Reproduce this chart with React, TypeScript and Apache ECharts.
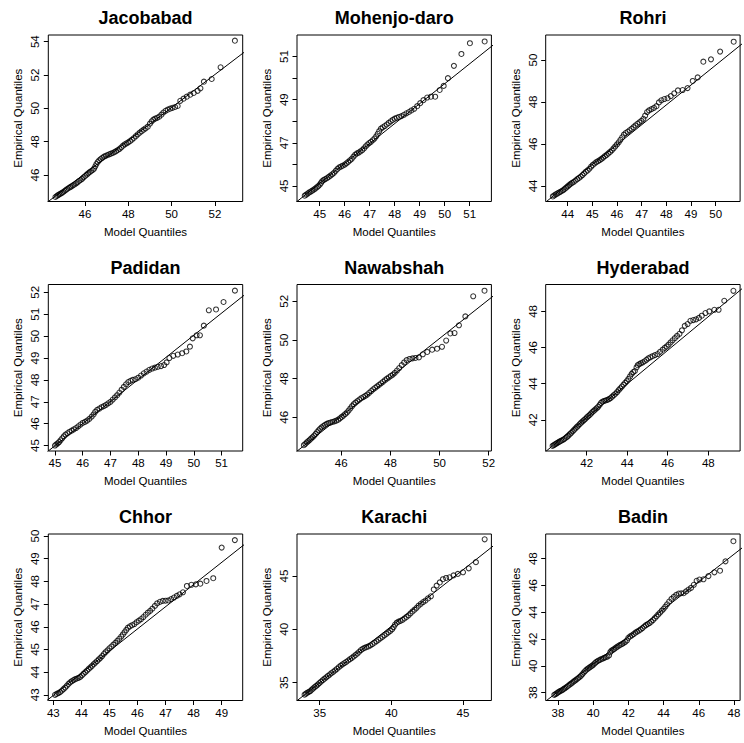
import { useEffect, useRef } from "react";
import * as echarts from "echarts";

const stations = ["Jacobabad", "Mohenjo-daro", "Rohri", "Padidan", "Nawabshah", "Hyderabad", "Chhor", "Karachi", "Badin"];

const jacobabad = [[44.64,44.68],[44.7,44.74],[44.76,44.79],[44.82,44.84],[44.88,44.88],[44.94,44.93],[45.0,44.98],[45.06,45.04],[45.12,45.1],[45.18,45.16],[45.25,45.22],[45.32,45.27],[45.38,45.32],[45.45,45.38],[45.52,45.43],[45.59,45.5],[45.66,45.56],[45.73,45.64],[45.8,45.7],[45.87,45.77],[45.94,45.86],[46.01,45.94],[46.08,46.02],[46.15,46.1],[46.22,46.17],[46.29,46.24],[46.36,46.3],[46.42,46.38],[46.48,46.52],[46.53,46.66],[46.59,46.78],[46.66,46.88],[46.73,46.96],[46.8,47.03],[46.88,47.1],[46.96,47.15],[47.04,47.2],[47.12,47.24],[47.2,47.28],[47.28,47.32],[47.36,47.37],[47.44,47.43],[47.52,47.5],[47.6,47.57],[47.68,47.66],[47.76,47.76],[47.84,47.84],[47.92,47.9],[48.0,47.96],[48.08,48.03],[48.17,48.12],[48.26,48.22],[48.35,48.33],[48.44,48.44],[48.53,48.54],[48.62,48.63],[48.71,48.72],[48.8,48.8],[48.9,48.9],[49.0,49.08],[49.08,49.22],[49.16,49.32],[49.24,49.38],[49.33,49.43],[49.43,49.5],[49.53,49.62],[49.62,49.75],[49.72,49.85],[49.82,49.92],[49.93,49.98],[50.04,50.03],[50.16,50.08],[50.28,50.14],[50.4,50.45],[50.55,50.58],[50.7,50.7],[50.86,50.82],[51.02,50.92],[51.2,51.05],[51.33,51.2],[51.49,51.6],[51.85,51.76],[52.26,52.46],[52.92,54.06]];

const mohenjodaro = [[44.4,44.55],[44.46,44.6],[44.52,44.65],[44.58,44.7],[44.64,44.74],[44.7,44.78],[44.76,44.83],[44.82,44.88],[44.88,44.93],[44.94,44.99],[45.0,45.06],[45.05,45.14],[45.1,45.22],[45.16,45.28],[45.22,45.32],[45.29,45.36],[45.36,45.42],[45.43,45.48],[45.5,45.54],[45.57,45.61],[45.64,45.7],[45.71,45.79],[45.78,45.86],[45.85,45.9],[45.92,45.94],[46.0,45.99],[46.07,46.05],[46.14,46.12],[46.21,46.19],[46.28,46.26],[46.35,46.36],[46.42,46.45],[46.49,46.51],[46.56,46.55],[46.63,46.6],[46.7,46.66],[46.77,46.74],[46.84,46.84],[46.91,46.92],[46.98,46.99],[47.05,47.05],[47.12,47.12],[47.19,47.2],[47.26,47.3],[47.32,47.42],[47.38,47.54],[47.45,47.66],[47.52,47.72],[47.6,47.78],[47.68,47.85],[47.76,47.92],[47.84,48.0],[47.92,48.06],[48.0,48.12],[48.08,48.16],[48.17,48.2],[48.27,48.24],[48.37,48.3],[48.47,48.37],[48.57,48.43],[48.67,48.5],[48.78,48.58],[48.9,48.7],[49.02,48.84],[49.15,48.98],[49.3,49.1],[49.45,49.14],[49.62,49.14],[49.8,49.45],[49.96,49.64],[50.13,50.0],[50.37,50.57],[50.67,51.12],[51.01,51.62],[51.6,51.7]];

const rohri = [[43.4,43.5],[43.46,43.55],[43.52,43.6],[43.58,43.64],[43.64,43.68],[43.7,43.72],[43.76,43.76],[43.82,43.8],[43.88,43.86],[43.94,43.92],[44.0,43.98],[44.06,44.04],[44.12,44.1],[44.18,44.15],[44.25,44.2],[44.32,44.26],[44.39,44.32],[44.46,44.38],[44.53,44.45],[44.6,44.52],[44.67,44.6],[44.74,44.68],[44.81,44.74],[44.88,44.82],[44.95,44.92],[45.02,45.0],[45.09,45.07],[45.16,45.13],[45.23,45.18],[45.3,45.23],[45.37,45.29],[45.44,45.35],[45.51,45.42],[45.58,45.48],[45.65,45.55],[45.72,45.62],[45.79,45.7],[45.86,45.79],[45.93,45.88],[46.0,45.98],[46.07,46.08],[46.14,46.2],[46.21,46.32],[46.28,46.44],[46.35,46.52],[46.43,46.58],[46.51,46.65],[46.59,46.72],[46.67,46.8],[46.75,46.88],[46.83,46.96],[46.91,47.03],[46.99,47.1],[47.07,47.2],[47.14,47.35],[47.22,47.52],[47.3,47.6],[47.4,47.66],[47.5,47.72],[47.6,47.8],[47.7,47.98],[47.8,48.08],[47.92,48.14],[48.05,48.18],[48.18,48.28],[48.32,48.41],[48.47,48.55],[48.66,48.57],[48.86,48.66],[49.07,49.0],[49.27,49.17],[49.5,49.92],[49.81,50.03],[50.18,50.4],[50.73,50.87]];

const padidan = [[45.0,45.0],[45.05,45.05],[45.1,45.1],[45.15,45.16],[45.2,45.24],[45.26,45.33],[45.32,45.42],[45.38,45.5],[45.45,45.56],[45.52,45.62],[45.6,45.68],[45.68,45.74],[45.76,45.8],[45.84,45.88],[45.92,45.96],[46.0,46.03],[46.08,46.08],[46.16,46.14],[46.24,46.22],[46.32,46.32],[46.39,46.42],[46.45,46.54],[46.52,46.63],[46.6,46.69],[46.68,46.75],[46.76,46.8],[46.84,46.86],[46.92,46.93],[47.0,47.0],[47.08,47.1],[47.16,47.2],[47.24,47.3],[47.32,47.42],[47.4,47.55],[47.48,47.68],[47.56,47.8],[47.64,47.9],[47.72,47.96],[47.8,48.0],[47.9,48.03],[48.0,48.1],[48.1,48.2],[48.2,48.3],[48.3,48.38],[48.4,48.46],[48.5,48.52],[48.6,48.56],[48.7,48.6],[48.82,48.63],[48.93,48.68],[49.02,48.8],[49.12,49.0],[49.26,49.1],[49.42,49.16],[49.58,49.22],[49.73,49.3],[49.86,49.52],[49.96,49.9],[50.1,50.04],[50.22,50.04],[50.36,50.48],[50.54,51.18],[50.8,51.22],[51.07,51.56],[51.48,52.08]];

const nawabshah = [[44.48,44.56],[44.54,44.63],[44.6,44.7],[44.66,44.77],[44.72,44.84],[44.78,44.91],[44.84,44.98],[44.9,45.06],[44.96,45.14],[45.02,45.24],[45.08,45.33],[45.14,45.41],[45.2,45.48],[45.27,45.55],[45.34,45.61],[45.41,45.66],[45.48,45.7],[45.56,45.73],[45.64,45.76],[45.72,45.79],[45.8,45.83],[45.88,45.88],[45.95,45.95],[46.02,46.02],[46.09,46.09],[46.16,46.17],[46.23,46.25],[46.3,46.35],[46.37,46.46],[46.44,46.58],[46.51,46.68],[46.58,46.76],[46.66,46.84],[46.74,46.92],[46.82,46.99],[46.9,47.05],[46.98,47.11],[47.06,47.18],[47.14,47.27],[47.22,47.36],[47.3,47.45],[47.38,47.53],[47.46,47.6],[47.54,47.68],[47.62,47.76],[47.7,47.84],[47.78,47.92],[47.86,48.0],[47.94,48.07],[48.02,48.14],[48.1,48.21],[48.18,48.3],[48.27,48.42],[48.36,48.55],[48.46,48.7],[48.56,48.84],[48.66,48.96],[48.78,49.02],[48.9,49.05],[49.02,49.07],[49.16,49.1],[49.32,49.26],[49.5,49.38],[49.7,49.5],[49.9,49.55],[50.1,49.65],[50.27,49.97],[50.44,50.34],[50.61,50.36],[50.79,50.76],[51.05,51.22],[51.37,52.26],[51.83,52.55]];

const hyderabad = [[40.32,40.55],[40.38,40.6],[40.44,40.64],[40.5,40.68],[40.56,40.72],[40.62,40.76],[40.68,40.8],[40.75,40.84],[40.82,40.88],[40.89,40.93],[40.96,40.99],[41.03,41.05],[41.1,41.12],[41.17,41.2],[41.24,41.28],[41.31,41.36],[41.38,41.44],[41.45,41.52],[41.52,41.6],[41.59,41.68],[41.66,41.76],[41.73,41.84],[41.8,41.91],[41.87,41.98],[41.94,42.05],[42.01,42.13],[42.08,42.2],[42.15,42.27],[42.22,42.35],[42.29,42.43],[42.36,42.5],[42.43,42.57],[42.5,42.64],[42.57,42.72],[42.64,42.82],[42.71,42.93],[42.78,43.0],[42.86,43.04],[42.94,43.07],[43.02,43.1],[43.1,43.14],[43.18,43.2],[43.26,43.28],[43.34,43.36],[43.42,43.44],[43.5,43.53],[43.58,43.64],[43.66,43.74],[43.74,43.84],[43.82,43.94],[43.9,44.04],[43.98,44.14],[44.06,44.26],[44.14,44.4],[44.22,44.54],[44.3,44.64],[44.38,44.7],[44.46,44.9],[44.52,45.02],[44.6,45.08],[44.68,45.13],[44.77,45.18],[44.86,45.24],[44.95,45.32],[45.04,45.4],[45.14,45.46],[45.25,45.52],[45.37,45.58],[45.5,45.64],[45.62,45.76],[45.75,45.88],[45.85,45.98],[45.95,46.06],[46.04,46.16],[46.14,46.28],[46.24,46.4],[46.35,46.52],[46.46,46.64],[46.58,46.76],[46.7,46.95],[46.84,47.2],[46.98,47.3],[47.12,47.48],[47.26,47.52],[47.4,47.56],[47.54,47.64],[47.68,47.76],[47.86,47.91],[48.05,48.0],[48.3,48.09],[48.51,48.09],[48.79,48.59],[49.24,49.14]];

const chhor = [[43.06,43.0],[43.12,43.04],[43.18,43.08],[43.24,43.12],[43.3,43.18],[43.36,43.25],[43.42,43.32],[43.48,43.4],[43.54,43.48],[43.6,43.55],[43.66,43.6],[43.72,43.65],[43.78,43.69],[43.84,43.72],[43.9,43.75],[43.96,43.79],[44.02,43.86],[44.08,43.93],[44.14,44.0],[44.2,44.07],[44.26,44.14],[44.32,44.21],[44.38,44.28],[44.44,44.35],[44.5,44.42],[44.56,44.49],[44.62,44.56],[44.68,44.63],[44.74,44.71],[44.8,44.8],[44.86,44.88],[44.93,44.96],[45.0,45.05],[45.07,45.13],[45.14,45.21],[45.21,45.29],[45.28,45.38],[45.35,45.47],[45.42,45.57],[45.48,45.66],[45.54,45.76],[45.6,45.86],[45.66,45.96],[45.73,46.02],[45.81,46.07],[45.89,46.12],[45.97,46.2],[46.05,46.27],[46.13,46.34],[46.21,46.43],[46.29,46.53],[46.37,46.62],[46.45,46.7],[46.53,46.8],[46.62,46.92],[46.7,47.03],[46.8,47.1],[46.9,47.14],[47.0,47.15],[47.1,47.16],[47.2,47.22],[47.3,47.29],[47.4,47.36],[47.5,47.43],[47.62,47.52],[47.76,47.8],[47.92,47.85],[48.08,47.87],[48.24,47.9],[48.46,48.02],[48.7,48.14],[49.0,49.49],[49.47,49.82]];

const karachi = [[33.95,33.88],[34.05,33.98],[34.15,34.06],[34.25,34.14],[34.35,34.22],[34.45,34.34],[34.55,34.46],[34.65,34.58],[34.76,34.7],[34.87,34.82],[34.98,34.96],[35.1,35.1],[35.22,35.24],[35.34,35.37],[35.46,35.5],[35.58,35.63],[35.7,35.76],[35.82,35.89],[35.95,36.02],[36.08,36.15],[36.21,36.3],[36.34,36.45],[36.47,36.6],[36.6,36.72],[36.73,36.84],[36.86,36.96],[36.99,37.08],[37.12,37.2],[37.25,37.33],[37.38,37.46],[37.51,37.6],[37.64,37.74],[37.76,37.9],[37.88,38.06],[38.0,38.18],[38.13,38.26],[38.26,38.33],[38.4,38.4],[38.54,38.5],[38.68,38.62],[38.82,38.75],[38.96,38.88],[39.1,39.02],[39.24,39.16],[39.38,39.3],[39.52,39.44],[39.66,39.58],[39.8,39.72],[39.94,39.86],[40.06,40.02],[40.16,40.22],[40.26,40.45],[40.38,40.62],[40.5,40.72],[40.64,40.8],[40.78,40.9],[40.92,41.02],[41.06,41.16],[41.2,41.32],[41.34,41.5],[41.48,41.68],[41.62,41.84],[41.76,42.02],[41.9,42.22],[42.06,42.4],[42.22,42.56],[42.38,42.7],[42.56,42.9],[42.76,43.1],[42.96,43.74],[43.16,44.1],[43.38,44.4],[43.6,44.7],[43.82,44.82],[44.06,44.88],[44.34,45.06],[44.64,45.2],[45.0,45.35],[45.4,45.72],[45.9,46.3],[46.51,48.44]];

const badin = [[37.79,37.84],[37.86,37.9],[37.93,37.96],[38.0,38.02],[38.07,38.08],[38.14,38.13],[38.21,38.18],[38.28,38.24],[38.35,38.3],[38.42,38.37],[38.5,38.44],[38.58,38.52],[38.66,38.6],[38.74,38.68],[38.82,38.76],[38.9,38.84],[38.98,38.92],[39.06,39.0],[39.14,39.08],[39.22,39.16],[39.3,39.26],[39.38,39.37],[39.46,39.5],[39.54,39.62],[39.62,39.72],[39.7,39.8],[39.78,39.87],[39.86,39.94],[39.94,40.02],[40.02,40.1],[40.1,40.2],[40.18,40.3],[40.27,40.38],[40.36,40.44],[40.45,40.5],[40.54,40.55],[40.63,40.6],[40.72,40.65],[40.81,40.7],[40.9,40.78],[40.97,41.02],[41.04,41.14],[41.12,41.2],[41.2,41.27],[41.29,41.36],[41.38,41.44],[41.47,41.52],[41.56,41.58],[41.65,41.64],[41.74,41.72],[41.83,41.8],[41.92,41.9],[42.0,42.1],[42.1,42.2],[42.2,42.28],[42.3,42.38],[42.4,42.48],[42.5,42.56],[42.6,42.64],[42.7,42.72],[42.8,42.82],[42.9,42.94],[43.0,43.04],[43.1,43.12],[43.2,43.2],[43.3,43.3],[43.4,43.42],[43.5,43.56],[43.6,43.7],[43.7,43.84],[43.8,43.98],[43.9,44.12],[44.0,44.26],[44.1,44.42],[44.2,44.6],[44.32,44.8],[44.45,45.0],[44.58,45.15],[44.72,45.3],[44.86,45.4],[45.0,45.42],[45.14,45.42],[45.28,45.56],[45.42,45.7],[45.56,45.82],[45.72,46.05],[45.88,46.35],[46.04,46.44],[46.27,46.46],[46.55,46.7],[46.89,46.98],[47.21,47.1],[47.52,47.8],[47.97,49.3]];

const panelPoints = [jacobabad, mohenjodaro, rohri, padidan, nawabshah, hyderabad, chhor, karachi, badin];

// axis limits [min, max]
const xLimits = [[44.31,53.28],[44.09,51.87],[43.11,50.99],[44.76,51.76],[44.2,52.11],[39.98,49.57],[42.82,49.75],[33.42,46.98],[37.3,48.35]];
const yLimits = [[44.41,54.4],[44.28,52.0],[43.26,51.19],[44.75,52.36],[44.26,52.87],[40.27,49.49],[42.75,50.09],[33.33,48.94],[37.42,49.84]];

// tick marks and tick labels
const xTicks = [[46,48,50,52],[45,46,47,48,49,50,51],[44,45,46,47,48,49,50],[45,46,47,48,49,50,51],[46,48,50,52],[42,44,46,48],[43,44,45,46,47,48,49],[35,40,45],[38,40,42,44,46,48]];
const yTicks = [[46,48,50,52,54],[45,46,47,48,49,50,51],[44,46,48,50],[45,46,47,48,49,50,51,52],[46,48,50,52],[42,44,46,48],[43,44,45,46,47,48,49,50],[35,40,45],[38,40,42,44,46,48]];
const yLabels = [[46,48,50,52,54],[45,47,49,51],[44,46,48,50],[45,46,47,48,49,50,51,52],[46,48,50,52],[42,44,46,48],[43,44,45,46,47,48,49,50],[35,40,45],[38,40,42,44,46,48]];

// reference lines: [x0, y0, slope]
const qqLines = [[44.31,44.41,0.991],[44.09,44.28,0.924],[43.11,43.23,0.947],[44.76,44.75,1.01],[44.2,44.25,1.005],[39.98,40.24,0.931],[42.82,42.8,0.977],[33.42,33.31,1.06],[37.3,37.37,1.024]];

const FONT = "'Liberation Sans', Arial, Helvetica, sans-serif";

export default function App() {
  const ref = useRef<HTMLDivElement>(null);
  useEffect(() => {
    if (!ref.current) return;
    const chart = echarts.init(ref.current, null, { renderer: "svg" });
    const boxW = 194.4, boxH = 166.5;
    const lefts = [48.3, 297.0, 545.7];
    const tops = [35, 284.5, 534];
    const grid: any[] = [], xAxis: any[] = [], yAxis: any[] = [], series: any[] = [], title: any[] = [];
    stations.forEach((name, i) => {
      const c = i % 3, r = Math.floor(i / 3);
      grid.push({ left: lefts[c], top: tops[r], width: boxW, height: boxH, show: true, borderColor: "#000", borderWidth: 1, backgroundColor: "transparent", containLabel: false, outerBoundsMode: "none" });
      title.push({ text: name, left: lefts[c] + boxW / 2, top: tops[r] - 26, textAlign: "center", padding: 0, textStyle: { fontSize: 18, fontWeight: "bold", color: "#000", fontFamily: FONT } });
      xAxis.push({
        type: "value", gridIndex: i, min: xLimits[i][0], max: xLimits[i][1],
        axisLine: { show: false }, splitLine: { show: false },
        axisTick: { show: true, length: 4.5, lineStyle: { color: "#000", width: 1 }, customValues: xTicks[i] },
        axisLabel: { customValues: xTicks[i], color: "#000", fontSize: 11.5, fontFamily: FONT, margin: 6 },
        name: "Model Quantiles", nameLocation: "middle", nameGap: 24,
        nameTextStyle: { color: "#000", fontSize: 11.5, fontFamily: FONT },
      });
      yAxis.push({
        type: "value", gridIndex: i, min: yLimits[i][0], max: yLimits[i][1],
        axisLine: { show: false }, splitLine: { show: false },
        axisTick: { show: true, length: 4.5, lineStyle: { color: "#000", width: 1 }, customValues: yTicks[i] },
        axisLabel: { customValues: yLabels[i], color: "#000", fontSize: 11.5, fontFamily: FONT, margin: 7, rotate: 90 },
        name: "Empirical Quantiles", nameLocation: "middle", nameGap: 24,
        nameTextStyle: { color: "#000", fontSize: 11.5, fontFamily: FONT },
      });
      series.push({
        type: "scatter", xAxisIndex: i, yAxisIndex: i, data: panelPoints[i],
        symbol: "circle", symbolSize: 5, silent: true,
        itemStyle: { color: "transparent", borderColor: "#000", borderWidth: 1.05 },
      });
      const [x0, y0, s] = qqLines[i];
      const xa = xLimits[i][0] - 1, xb = xLimits[i][1] + 1;
      series.push({
        type: "line", xAxisIndex: i, yAxisIndex: i, clip: true, silent: true,
        data: [[xa, y0 + s * (xa - x0)], [xb, y0 + s * (xb - x0)]],
        showSymbol: false, symbol: "none", lineStyle: { color: "#000", width: 1 },
      });
    });
    chart.setOption({ animation: false, backgroundColor: "#fff", title, grid, xAxis, yAxis, series });
    return () => chart.dispose();
  }, []);
  return <div ref={ref} style={{ position: "fixed", left: 0, top: 0, width: 744, height: 743, background: "#fff" }} />;
}
